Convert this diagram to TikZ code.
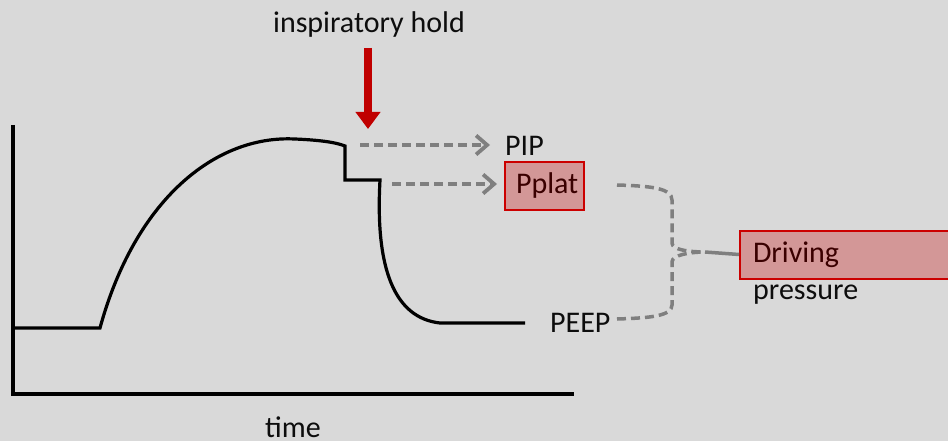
\documentclass[tikz,border=0pt]{standalone}
\usepackage{fontspec}
\setmainfont{Carlito}
\usetikzlibrary{arrows.meta}
\definecolor{bg}{HTML}{D9D9D9}
\definecolor{dashgray}{HTML}{7F7F7F}
\definecolor{boxfill}{HTML}{D39797}
\definecolor{boxline}{HTML}{CC0000}
\definecolor{boxtext}{HTML}{3A0000}
\definecolor{holdred}{HTML}{C00000}
\tikzset{
  lbl/.style={font=\fontsize{30}{36}\selectfont, text=black!95, inner sep=0pt},
  valbox/.style={lbl, text=boxtext, fill=boxfill, draw=boxline, line width=2pt,
    minimum height=48pt},
  trace/.style={line width=3.2pt, line join=miter},
  axis/.style={line width=3.6pt},
  hint/.style={dashgray, line width=3.5pt, dash pattern=on 9pt off 5pt},
  hintarrow/.style={hint, -{Straight Barb[length=11pt,width=19pt,line width=3.8pt]}},
}
\begin{document}
\begin{tikzpicture}[x=1pt,y=-1pt]
  \clip (0,0) rectangle (948,441);
  \fill[bg] (0,0) rectangle (948,441);

  % axes
  \coordinate (ytop) at (13,125);
  \coordinate (orig) at (13,394);
  \coordinate (xend) at (574,394);
  \draw[axis] (ytop) -- (orig) -- (xend);

  % pressure trace
  \coordinate (base0) at (13,328);
  \coordinate (rise) at (100,328);
  \coordinate (peakend) at (345,146);
  \coordinate (stepL) at (345,180);
  \coordinate (stepR) at (380,180);
  \coordinate (low) at (440,323);
  \coordinate (lowend) at (525,323);
  \draw[trace] (base0) -- (rise)
    .. controls (135,200) and (215,135) .. (295,139)
    .. controls (318,140) and (335,142) .. (peakend)
    -- (stepL) -- (stepR)
    .. controls (375,270) and (395,318) .. (low) -- (lowend);

  % inspiratory hold marker
  \node[lbl, anchor=center] (hold) at (369,25) {inspiratory hold};
  \coordinate (holdtop) at (368,48);
  \coordinate (holdtip) at (368,129);
  \draw[holdred, line width=8pt, -{Triangle[length=17pt,width=24pt]}] (holdtop) -- (holdtip);

  % labels
  \node[lbl, anchor=west] (pip) at (505,146) {PIP};
  \node[valbox, anchor=west, minimum width=79pt, text width=79pt, align=left,
        inner xsep=0pt] (pplat) at (504,186) {\hspace*{11pt}Pplat};
  \node[lbl, anchor=west] (peep) at (550,323) {PEEP};
  \node[valbox, anchor=west, minimum width=230pt, text width=230pt, align=left,
        inner xsep=0pt] (drive) at (739,254.5) {\hspace*{13pt}Driving};
  \node[lbl, anchor=west] (press) at (753,295) {pressure};
  \node[lbl, anchor=center] (time) at (293,427) {time};

  % dashed pointers to PIP and Pplat
  \coordinate (pipfrom) at (360,145);
  \coordinate (pipto) at (490,145);
  \draw[hintarrow] (pipfrom) -- (pipto);
  \coordinate (pplatfrom) at (392,184);
  \coordinate (pplatto) at (497,184);
  \draw[hintarrow] (pplatfrom) -- (pplatto);

  % bracket joining Pplat and PEEP into driving pressure
  \coordinate (pa) at (617,185);
  \coordinate (pb) at (672,243);
  \coordinate (pe) at (617,319);
  \coordinate (pf) at (672,262);
  \coordinate (join) at (705,252);
  \draw[hint] (pa) .. controls (650,186) and (672,188) .. (672,200) -- (pb)
    .. controls (672,250) and (690,252) .. (join);
  \draw[hint] (pe) .. controls (650,318) and (672,316) .. (672,305) -- (pf)
    .. controls (672,255) and (690,252) .. (join);
  \draw[dashgray, line width=3.5pt] (join) -- (drive.west);
\end{tikzpicture}
\end{document}
